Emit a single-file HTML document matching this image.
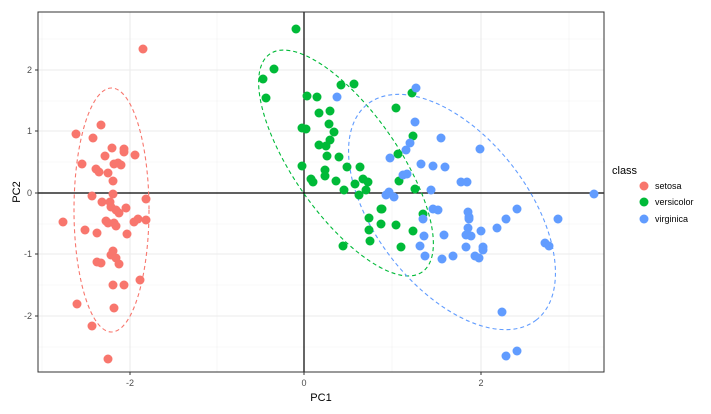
<!DOCTYPE html>
<html><head><style>body{margin:0;background:#fff}svg{display:block}text{font-family:"Liberation Sans",sans-serif}</style></head><body>
<svg width="711" height="414" viewBox="0 0 711 414" xmlns="http://www.w3.org/2000/svg">
<rect x="38" y="12" width="566" height="360" fill="#fff"/>
<g stroke="#f2f2f2" stroke-width="0.6">
<line x1="42" y1="12" x2="42" y2="372"/><line x1="217" y1="12" x2="217" y2="372"/><line x1="392" y1="12" x2="392" y2="372"/><line x1="569" y1="12" x2="569" y2="372"/>
<line x1="38" y1="39" x2="604" y2="39"/><line x1="38" y1="101" x2="604" y2="101"/><line x1="38" y1="162" x2="604" y2="162"/><line x1="38" y1="224" x2="604" y2="224"/><line x1="38" y1="285" x2="604" y2="285"/><line x1="38" y1="347" x2="604" y2="347"/>
</g>
<g stroke="#ebebeb" stroke-width="1.1">
<line x1="130" y1="12" x2="130" y2="372"/><line x1="481" y1="12" x2="481" y2="372"/>
<line x1="38" y1="70" x2="604" y2="70"/><line x1="38" y1="131" x2="604" y2="131"/><line x1="38" y1="254" x2="604" y2="254"/><line x1="38" y1="316" x2="604" y2="316"/>
</g>
<line x1="304" y1="12" x2="304" y2="372" stroke="#000" stroke-width="1.2"/>
<line x1="38" y1="193" x2="604" y2="193" stroke="#000" stroke-width="1.2"/>
<g fill="none" stroke-width="1.1" stroke-dasharray="4,3">
<ellipse cx="111.5" cy="210" rx="37.5" ry="122" stroke="#F8766D"/>
<ellipse cx="346" cy="163" rx="133" ry="52" transform="rotate(55 346 163)" stroke="#00BA38"/>
<ellipse cx="452" cy="212" rx="137" ry="76" transform="rotate(52 452 212)" stroke="#619CFF"/>
</g>
<g fill="#F8766D">
<circle cx="143" cy="49" r="4.5"/><circle cx="101" cy="125" r="4.5"/><circle cx="76" cy="134" r="4.5"/><circle cx="93" cy="138" r="4.5"/><circle cx="112" cy="148" r="4.5"/><circle cx="124" cy="149" r="4.5"/><circle cx="124" cy="152" r="4.5"/><circle cx="135" cy="155" r="4.5"/><circle cx="105" cy="156" r="4.5"/><circle cx="82" cy="164" r="4.5"/><circle cx="114" cy="164" r="4.5"/><circle cx="118" cy="163" r="4.5"/><circle cx="121" cy="165" r="4.5"/><circle cx="96" cy="169" r="4.5"/><circle cx="99" cy="172" r="4.5"/><circle cx="108" cy="173" r="4.5"/><circle cx="113" cy="181" r="4.5"/><circle cx="113" cy="194" r="4.5"/><circle cx="92" cy="196" r="4.5"/><circle cx="146" cy="199" r="4.5"/><circle cx="102" cy="202" r="4.5"/><circle cx="110" cy="202" r="4.5"/><circle cx="111" cy="207" r="4.5"/><circle cx="116" cy="210" r="4.5"/><circle cx="119" cy="213" r="4.5"/><circle cx="126" cy="208" r="4.5"/><circle cx="63" cy="222" r="4.5"/><circle cx="106" cy="221" r="4.5"/><circle cx="108" cy="223" r="4.5"/><circle cx="114" cy="223" r="4.5"/><circle cx="116" cy="226" r="4.5"/><circle cx="134" cy="222" r="4.5"/><circle cx="138" cy="219" r="4.5"/><circle cx="146" cy="220" r="4.5"/><circle cx="85" cy="230" r="4.5"/><circle cx="97" cy="233" r="4.5"/><circle cx="127" cy="234" r="4.5"/><circle cx="113" cy="251" r="4.5"/><circle cx="111" cy="255" r="4.5"/><circle cx="116" cy="258" r="4.5"/><circle cx="119" cy="264" r="4.5"/><circle cx="97" cy="262" r="4.5"/><circle cx="101" cy="263" r="4.5"/><circle cx="113" cy="285" r="4.5"/><circle cx="124" cy="285" r="4.5"/><circle cx="140" cy="280" r="4.5"/><circle cx="77" cy="304" r="4.5"/><circle cx="114" cy="308" r="4.5"/><circle cx="92" cy="326" r="4.5"/><circle cx="108" cy="359" r="4.5"/>
</g>
<g fill="#00BA38">
<circle cx="296" cy="29" r="4.5"/><circle cx="274" cy="69" r="4.5"/><circle cx="263" cy="79" r="4.5"/><circle cx="266" cy="98" r="4.5"/><circle cx="307" cy="96" r="4.5"/><circle cx="317" cy="97" r="4.5"/><circle cx="341" cy="85" r="4.5"/><circle cx="354" cy="84" r="4.5"/><circle cx="412" cy="93" r="4.5"/><circle cx="396" cy="108" r="4.5"/><circle cx="319" cy="113" r="4.5"/><circle cx="330" cy="111" r="4.5"/><circle cx="329" cy="124" r="4.5"/><circle cx="302" cy="128" r="4.5"/><circle cx="306" cy="129" r="4.5"/><circle cx="334" cy="132" r="4.5"/><circle cx="330" cy="140" r="4.5"/><circle cx="319" cy="145" r="4.5"/><circle cx="326" cy="146" r="4.5"/><circle cx="413" cy="136" r="4.5"/><circle cx="327" cy="156" r="4.5"/><circle cx="339" cy="157" r="4.5"/><circle cx="398" cy="154" r="4.5"/><circle cx="302" cy="166" r="4.5"/><circle cx="347" cy="167" r="4.5"/><circle cx="360" cy="167" r="4.5"/><circle cx="325" cy="170" r="4.5"/><circle cx="325" cy="176" r="4.5"/><circle cx="311" cy="179" r="4.5"/><circle cx="313" cy="182" r="4.5"/><circle cx="336" cy="181" r="4.5"/><circle cx="363" cy="179" r="4.5"/><circle cx="368" cy="182" r="4.5"/><circle cx="355" cy="184" r="4.5"/><circle cx="366" cy="190" r="4.5"/><circle cx="344" cy="190" r="4.5"/><circle cx="399" cy="181" r="4.5"/><circle cx="415" cy="189" r="4.5"/><circle cx="359" cy="195" r="4.5"/><circle cx="381" cy="209" r="4.5"/><circle cx="369" cy="218" r="4.5"/><circle cx="381" cy="224" r="4.5"/><circle cx="396" cy="225" r="4.5"/><circle cx="369" cy="230" r="4.5"/><circle cx="413" cy="231" r="4.5"/><circle cx="370" cy="241" r="4.5"/><circle cx="401" cy="247" r="4.5"/><circle cx="343" cy="246" r="4.5"/><circle cx="423" cy="214" r="4.5"/><circle cx="382" cy="209" r="4.5"/>
</g>
<g fill="#619CFF">
<circle cx="416" cy="88" r="4.5"/><circle cx="337" cy="97" r="4.5"/><circle cx="415" cy="122" r="4.5"/><circle cx="441" cy="138" r="4.5"/><circle cx="410" cy="143" r="4.5"/><circle cx="406" cy="150" r="4.5"/><circle cx="390" cy="158" r="4.5"/><circle cx="421" cy="164" r="4.5"/><circle cx="433" cy="166" r="4.5"/><circle cx="445" cy="167" r="4.5"/><circle cx="403" cy="175" r="4.5"/><circle cx="407" cy="174" r="4.5"/><circle cx="461" cy="182" r="4.5"/><circle cx="467" cy="182" r="4.5"/><circle cx="431" cy="190" r="4.5"/><circle cx="386" cy="195" r="4.5"/><circle cx="389" cy="192" r="4.5"/><circle cx="394" cy="197" r="4.5"/><circle cx="433" cy="209" r="4.5"/><circle cx="438" cy="210" r="4.5"/><circle cx="423" cy="219" r="4.5"/><circle cx="424" cy="236" r="4.5"/><circle cx="444" cy="235" r="4.5"/><circle cx="425" cy="256" r="4.5"/><circle cx="442" cy="259" r="4.5"/><circle cx="453" cy="256" r="4.5"/><circle cx="480" cy="149" r="4.5"/><circle cx="594" cy="194" r="4.5"/><circle cx="468" cy="212" r="4.5"/><circle cx="469" cy="217" r="4.5"/><circle cx="469" cy="219" r="4.5"/><circle cx="517" cy="209" r="4.5"/><circle cx="506" cy="219" r="4.5"/><circle cx="558" cy="219" r="4.5"/><circle cx="468" cy="228" r="4.5"/><circle cx="497" cy="228" r="4.5"/><circle cx="481" cy="231" r="4.5"/><circle cx="466" cy="235" r="4.5"/><circle cx="471" cy="236" r="4.5"/><circle cx="545" cy="243" r="4.5"/><circle cx="549" cy="246" r="4.5"/><circle cx="466" cy="247" r="4.5"/><circle cx="483" cy="247" r="4.5"/><circle cx="483" cy="250" r="4.5"/><circle cx="475" cy="256" r="4.5"/><circle cx="479" cy="258" r="4.5"/><circle cx="502" cy="312" r="4.5"/><circle cx="506" cy="356" r="4.5"/><circle cx="517" cy="351" r="4.5"/><circle cx="420" cy="246" r="4.5"/>
</g>
<rect x="38" y="12" width="566" height="360" fill="none" stroke="#333" stroke-width="1"/>
<g stroke="#333" stroke-width="1">
<line x1="130" y1="372" x2="130" y2="375"/><line x1="304" y1="372" x2="304" y2="375"/><line x1="481" y1="372" x2="481" y2="375"/>
<line x1="35" y1="70" x2="38" y2="70"/><line x1="35" y1="131" x2="38" y2="131"/><line x1="35" y1="193" x2="38" y2="193"/><line x1="35" y1="254" x2="38" y2="254"/><line x1="35" y1="316" x2="38" y2="316"/>
</g>
<g font-size="9" fill="#4d4d4d" text-anchor="middle">
<text x="130" y="386">-2</text><text x="304" y="386">0</text><text x="481" y="386">2</text>
</g>
<g font-size="9" fill="#4d4d4d" text-anchor="end">
<text x="32" y="73">2</text><text x="32" y="134">1</text><text x="32" y="196">0</text><text x="32" y="257">-1</text><text x="32" y="319">-2</text>
</g>
<text x="321" y="401" font-size="11" text-anchor="middle">PC1</text>
<text x="0" y="0" font-size="11" text-anchor="middle" transform="translate(20 192) rotate(-90)">PC2</text>
<text x="612" y="174" font-size="11">class</text>
<circle cx="644" cy="186" r="4.5" fill="#F8766D"/><text x="655" y="189" font-size="9">setosa</text>
<circle cx="644" cy="202" r="4.5" fill="#00BA38"/><text x="655" y="205" font-size="9">versicolor</text>
<circle cx="644" cy="219" r="4.5" fill="#619CFF"/><text x="655" y="222" font-size="9">virginica</text>
</svg>
</body></html>
